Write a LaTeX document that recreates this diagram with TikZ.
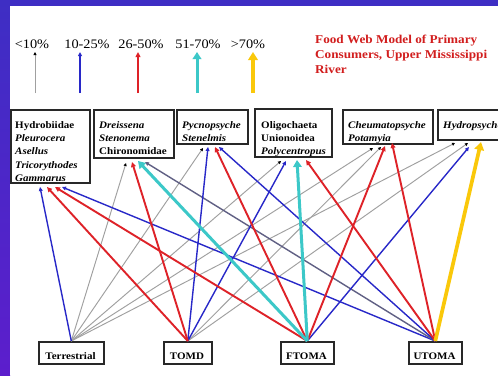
\documentclass[tikz,border=0pt]{standalone}
\usepackage{fontspec}
\setmainfont{Liberation Serif}
\usepackage{graphicx}
\usetikzlibrary{arrows.meta}
\definecolor{frameblue}{RGB}{62,46,196}
\definecolor{framepurple}{RGB}{92,30,204}
\definecolor{lgray}{RGB}{160,160,160}
\definecolor{lblue}{RGB}{40,40,200}
\definecolor{lred}{RGB}{222,34,40}
\definecolor{lcyan}{RGB}{60,200,200}
\definecolor{lyellow}{RGB}{250,200,10}
\definecolor{lslate}{RGB}{96,96,132}
\definecolor{titlered}{RGB}{210,30,30}
\definecolor{boxgray}{RGB}{40,40,40}
\newcommand\hsx[1]{\scalebox{1.1}[1]{#1}}
\begin{document}
\begin{tikzpicture}[x=1pt,y=-1pt,
  wgray/.style={draw=lgray, line width=0.95pt, -{Triangle[length=3pt,width=3pt,color=black]}},
  wblue/.style={draw=lblue, line width=1.4pt, -{Triangle[length=4pt,width=3.8pt]}},
  wslate/.style={draw=lslate, line width=1.4pt, -{Triangle[length=4pt,width=3.8pt]}},
  wred/.style={draw=lred, line width=1.9pt, -{Triangle[length=5pt,width=4.8pt]}},
  wcyan/.style={draw=lcyan, line width=3pt, -{Triangle[length=7pt,width=8.5pt]}},
  wyellow/.style={draw=lyellow, line width=3.7pt, -{Triangle[length=8pt,width=9.5pt]}},
  taxbox/.style={draw=boxgray, line width=1.6pt, inner sep=0pt, anchor=north west},
  taxtxt/.style={inner sep=0pt, anchor=north west, font=\fontsize{10}{13.3}\selectfont\bfseries},
  srctxt/.style={inner sep=0pt, anchor=base, font=\fontsize{10}{12}\selectfont\bfseries},
  lgtxt/.style={inner sep=0pt, font=\fontsize{13}{15}\selectfont},
  titletxt/.style={inner sep=0pt, anchor=north west, text=titlered, font=\fontsize{12}{15}\selectfont\bfseries}
]
\useasboundingbox (0,0) rectangle (498,375);
\clip (0,0) rectangle (498,375);
% frame
\fill[frameblue] (0,0) rectangle (498,375);
\shade[top color=frameblue, bottom color=framepurple] (0,0) rectangle (10,375);
\fill[white] (10,6) rectangle (498,375);

% legend
\node[lgtxt] (lg1) at (32,44) {\hsx{<10\%}};
\node[lgtxt] (lg2) at (87,44) {\hsx{10-25\%}};
\node[lgtxt] (lg3) at (141,44) {\hsx{26-50\%}};
\node[lgtxt] (lg4) at (198,44) {\hsx{51-70\%}};
\node[lgtxt] (lg5) at (248,44) {\hsx{>70\%}};
\coordinate (la1) at (35,93);  \coordinate (lb1) at (35,52);
\coordinate (la2) at (80,93);  \coordinate (lb2) at (80,52);
\coordinate (la3) at (138,93); \coordinate (lb3) at (138,52);
\coordinate (la4) at (197,93); \coordinate (lb4) at (197,52);
\coordinate (la5) at (253,93); \coordinate (lb5) at (253,52);
\draw[wgray] (la1) -- (lb1);
\draw[wblue] (la2) -- (lb2);
\draw[wred] (la3) -- (lb3);
\draw[wcyan] (la4) -- (lb4);
\draw[wyellow] (la5) -- (lb5);

% title
\node[titletxt] (title) at (315,33) {\hsx{\begin{tabular}{@{}l@{}}Food Web Model of Primary\\Consumers, Upper Mississippi\\River\end{tabular}}};

% consumer boxes
\node[taxbox, minimum width=79pt, minimum height=73pt] (b1) at (10,109) {};
\node[taxtxt] (b1t) at (15,118.7) {\hsx{\begin{tabular}{@{}l@{}}Hydrobiidae\\\textit{Pleurocera}\\\textit{Asellus}\\\textit{Tricorythodes}\\\textit{Gammarus}\end{tabular}}};
\node[taxbox, minimum width=80pt, minimum height=48pt] (b2) at (93,109) {};
\node[taxtxt] (b2t) at (99,118.7) {\hsx{\begin{tabular}{@{}l@{}}\textit{Dreissena}\\\textit{Stenonema}\\Chironomidae\end{tabular}}};
\node[taxbox, minimum width=71pt, minimum height=34pt] (b3) at (176,109) {};
\node[taxtxt] (b3t) at (182,118.7) {\hsx{\begin{tabular}{@{}l@{}}\textit{Pycnopsyche}\\\textit{Stenelmis}\end{tabular}}};
\node[taxbox, minimum width=77pt, minimum height=48pt] (b4) at (254,108) {};
\node[taxtxt] (b4t) at (261,118.7) {\hsx{\begin{tabular}{@{}l@{}}Oligochaeta\\Unionoidea\\\textit{Polycentropus}\end{tabular}}};
\node[taxbox, minimum width=90pt, minimum height=34pt] (b5) at (342,109) {};
\node[taxtxt] (b5t) at (348,118.7) {\hsx{\begin{tabular}{@{}l@{}}\textit{Cheumatopsyche}\\\textit{Potamyia}\end{tabular}}};
\node[taxbox, minimum width=90pt, minimum height=30pt] (b6) at (437,109) {};
\node[taxtxt] (b6t) at (443,118.7) {\hsx{\begin{tabular}{@{}l@{}}\textit{Hydropsyche}\end{tabular}}};

% source boxes
\node[taxbox, minimum width=65pt, minimum height=22pt] (ter) at (38,341) {};
\node[srctxt] (tert) at (70.5,359) {\hsx{Terrestrial}};
\node[taxbox, minimum width=48pt, minimum height=22pt] (tomd) at (163,341) {};
\node[srctxt] (tomdt) at (187,359) {\hsx{TOMD}};
\node[taxbox, minimum width=53pt, minimum height=22pt] (ftoma) at (280,341) {};
\node[srctxt] (ftomat) at (306.5,359) {\hsx{FTOMA}};
\node[taxbox, minimum width=53pt, minimum height=22pt] (utoma) at (408,341) {};
\node[srctxt] (utomat) at (434.5,359) {\hsx{UTOMA}};

% arrow targets
\coordinate (b1a) at (40,187);  \coordinate (b1b) at (47,187);  \coordinate (b1c) at (55,187);  \coordinate (b1d) at (62,187);
\coordinate (b2a) at (126,163); \coordinate (b2b) at (132,162); \coordinate (b2c) at (138,161); \coordinate (b2d) at (145,162);
\coordinate (b3a) at (203,148); \coordinate (b3b) at (208,147); \coordinate (b3c) at (215,147); \coordinate (b3d) at (219,147);
\coordinate (b4a) at (281,161); \coordinate (b4b) at (286,161); \coordinate (b4c) at (297,160); \coordinate (b4d) at (306,160);
\coordinate (b5a) at (373,148); \coordinate (b5b) at (381,147); \coordinate (b5c) at (385,146); \coordinate (b5d) at (392,143);
\coordinate (b6a) at (455,143); \coordinate (b6b) at (468,143); \coordinate (b6c) at (469,147); \coordinate (b6d) at (481,142);

% gray links
\draw[wgray] (ter.north) -- (b2a);
\draw[wgray] (ter.north) -- (b3a);
\draw[wgray] (ter.north) -- (b4a);
\draw[wgray] (ter.north) -- (b5a);
\draw[wgray] (ter.north) -- (b6a);
\draw[wgray] (tomd.north) -- (b5b);
\draw[wgray] (tomd.north) -- (b6b);
% blue links
\draw[wblue] (ter.north) -- (b1a);
\draw[wblue] (utoma.north) -- (b1d);
\draw[wslate] (utoma.north) -- (b2d);
\draw[wblue] (tomd.north) -- (b3b);
\draw[wblue] (utoma.north) -- (b3d);
\draw[wblue] (tomd.north) -- (b4b);
\draw[wblue] (ftoma.north) -- (b6c);
% red links
\draw[wred] (tomd.north) -- (b1b);
\draw[wred] (ftoma.north) -- (b1c);
\draw[wred] (tomd.north) -- (b2b);
\draw[wred] (ftoma.north) -- (b3c);
\draw[wred] (utoma.north) -- (b4d);
\draw[wred] (ftoma.north) -- (b5c);
\draw[wred] (utoma.north) -- (b5d);
% cyan links
\draw[wcyan] (ftoma.north) -- (b2c);
\draw[wcyan] (ftoma.north) -- (b4c);
% yellow link
\draw[wyellow] (utoma.north) -- (b6d);
\end{tikzpicture}
\end{document}
